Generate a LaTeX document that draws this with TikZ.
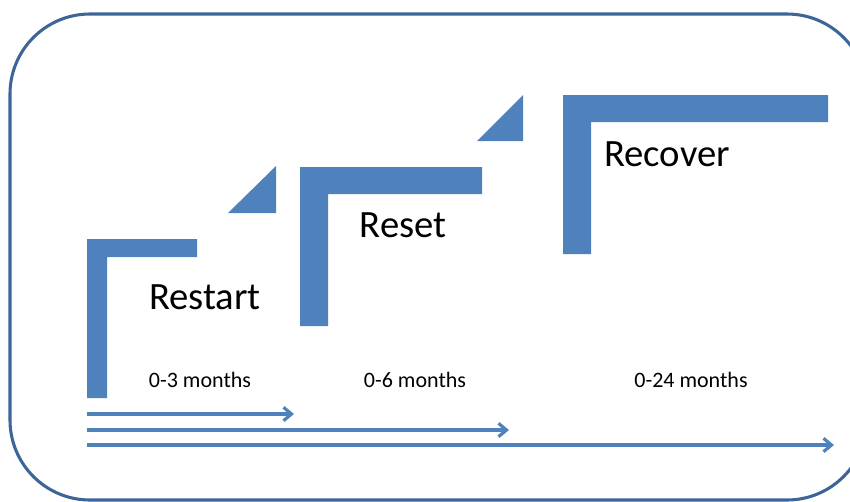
\documentclass[tikz,border=0pt]{standalone}
\usepackage{fontspec}
\setmainfont{Carlito}
\usetikzlibrary{arrows.meta,positioning}
\definecolor{stepblue}{HTML}{4F81BD}
\definecolor{framenavy}{HTML}{3E6597}
\tikzset{
  stepbar/.style={fill=stepblue},
  phasetext/.style={
    font=\fontsize{29}{31}\selectfont,
    inner sep=0pt,
    anchor=base
  },
  spantext/.style={
    font=\fontsize{16.5}{18}\selectfont,
    inner sep=0pt,
    anchor=base
  },
  spanarrow/.style={-{Straight Barb[length=6pt,width=10pt]},line width=2.4pt,draw=stepblue},
  outerframe/.style={draw=framenavy,line width=2.3pt,rounded corners=60pt}
}

\begin{document}
\begin{tikzpicture}[x=0.75pt,y=-0.75pt]
\useasboundingbox (0,0) rectangle (850,501);
\clip (0,0) rectangle (850,501);
\draw[outerframe] (10,14) rectangle (867,500);
% the three steps
\fill[stepbar] (87,239) -| (197,257) -| (107,398) -| cycle;
\fill[stepbar] (300,167) -| (482,194) -| (328,326) -| cycle;
\fill[stepbar] (563,95) -| (828,122) -| (591,254) -| cycle;
\fill[stepbar] (228,213) -- (276,166) -- (276,213) -- cycle;
\fill[stepbar] (477,141) -- (523,95) -- (523,141) -- cycle;
% phase names
\node[phasetext] (restart) at (205,309) {Restart};
\node[phasetext] (reset) at (403,237) {Reset};
\node[phasetext] (recover) at (667,166) {Recover};
% time spans
\node[spantext] (short) at (200,387) {0-3 months};
\node[spantext] (mid) at (415,387) {0-6 months};
\node[spantext] (long) at (691,387) {0-24 months};
\coordinate (s1) at (87,414);
\coordinate (e1) at (294,414);
\coordinate (s2) at (87,430);
\coordinate (e2) at (509,430);
\coordinate (s3) at (87,445);
\coordinate (e3) at (834,445);
\draw[spanarrow] (s1) -- (e1);
\draw[spanarrow] (s2) -- (e2);
\draw[spanarrow] (s3) -- (e3);
\end{tikzpicture}
\end{document}
